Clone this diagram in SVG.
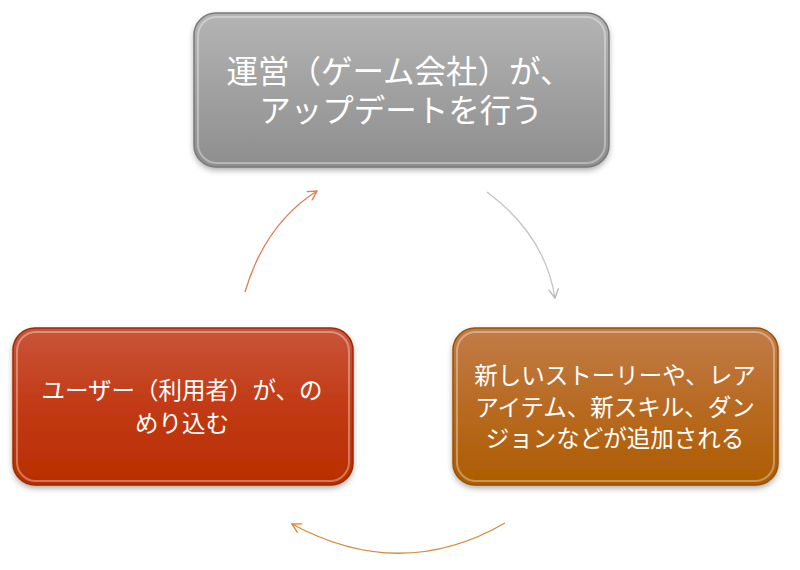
<svg xmlns="http://www.w3.org/2000/svg" width="800" height="570" viewBox="0 0 800 570">
<style>
.t{font-family:"Noto Sans CJK JP","Noto Sans CJK SC",sans-serif;fill:#ffffff;text-anchor:middle}
.big{font-size:31.5px}
.sm{font-size:23.5px}
.bevel{fill:none;stroke:#ffffff;stroke-opacity:0.35;stroke-width:2}
.edge{fill:none;stroke-width:1.5}
.conn{fill:none;stroke-width:1.3}
</style>
<defs>
<linearGradient id="gGray" x1="0" y1="0" x2="0" y2="1">
<stop offset="0" stop-color="#b4b4b4"/><stop offset="1" stop-color="#8e8e8e"/>
</linearGradient>
<linearGradient id="gRed" x1="0" y1="0" x2="0" y2="1">
<stop offset="0" stop-color="#c8553a"/><stop offset="0.5" stop-color="#c23a14"/><stop offset="1" stop-color="#b82e00"/>
</linearGradient>
<linearGradient id="gOrange" x1="0" y1="0" x2="0" y2="1">
<stop offset="0" stop-color="#c27c48"/><stop offset="0.5" stop-color="#b86a22"/><stop offset="1" stop-color="#ad5c00"/>
</linearGradient>
<filter id="sh" x="-10%" y="-10%" width="120%" height="130%">
<feDropShadow dx="0" dy="3" stdDeviation="3" flood-color="#000" flood-opacity="0.35"/>
</filter>
<marker id="aO" viewBox="0 0 12 12" refX="11" refY="6" markerWidth="12" markerHeight="12" markerUnits="userSpaceOnUse" orient="auto">
<path d="M2,1 L11,6 L2,11" fill="none" stroke="#e07d52" stroke-width="1.4"/>
</marker>
<marker id="aG" viewBox="0 0 12 12" refX="11" refY="6" markerWidth="12" markerHeight="12" markerUnits="userSpaceOnUse" orient="auto">
<path d="M2,1 L11,6 L2,11" fill="none" stroke="#b8b8b8" stroke-width="1.4"/>
</marker>
<marker id="aB" viewBox="0 0 12 12" refX="11" refY="6" markerWidth="12" markerHeight="12" markerUnits="userSpaceOnUse" orient="auto">
<path d="M2,1 L11,6 L2,11" fill="none" stroke="#d88a3c" stroke-width="1.4"/>
</marker>
</defs>
<rect width="800" height="570" fill="#ffffff"/>
<g id="connectors">
<path class="conn" d="M245,292 Q265,224 317,191" stroke="#e07d52" marker-end="url(#aO)"/>
<path class="conn" d="M487,192 Q545,235 555,298" stroke="#c4c4c4" marker-end="url(#aG)"/>
<path class="conn" d="M505,523 Q401,583 292,524" stroke="#d88a3c" marker-end="url(#aB)"/>
</g>
<g id="node-top">
<rect x="194" y="13" width="415" height="154" rx="22" fill="url(#gGray)" filter="url(#sh)"/>
<rect x="194" y="13" width="415" height="154" rx="22" class="edge" stroke="#7a7a7a"/>
<rect x="198" y="17" width="407" height="146" rx="19" class="bevel"/>
<text class="t big"><tspan x="399" y="83">運営（ゲーム会社）が、</tspan><tspan x="401" y="122">アップデートを行う</tspan></text>
</g>
<g id="node-left">
<rect x="13" y="328" width="340" height="157" rx="22" fill="url(#gRed)" filter="url(#sh)"/>
<rect x="13" y="328" width="340" height="157" rx="22" class="edge" stroke="#9e2a00"/>
<rect x="17" y="332" width="332" height="149" rx="19" class="bevel"/>
<text class="t sm"><tspan x="182" y="399">ユーザー（利用者）が、の</tspan><tspan x="182" y="432">めり込む</tspan></text>
</g>
<g id="node-right">
<rect x="453" y="328" width="325" height="157" rx="22" fill="url(#gOrange)" filter="url(#sh)"/>
<rect x="453" y="328" width="325" height="157" rx="22" class="edge" stroke="#9a5200"/>
<rect x="457" y="332" width="317" height="149" rx="19" class="bevel"/>
<text class="t sm"><tspan x="615" y="384">新しいストーリーや、レア</tspan><tspan x="615" y="416">アイテム、新スキル、ダン</tspan><tspan x="615" y="447">ジョンなどが追加される</tspan></text>
</g>
</svg>
